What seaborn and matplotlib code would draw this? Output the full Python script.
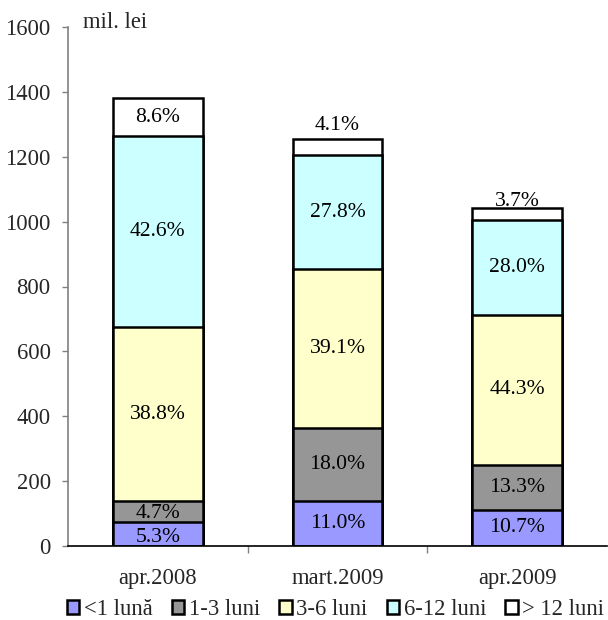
import matplotlib
matplotlib.use("Agg")
import matplotlib.pyplot as plt
import seaborn as sns
import numpy as np
import pandas as pd
from matplotlib.patches import Patch

categories = ["apr.2008", "mart.2009", "apr.2009"]
series_names = ["<1 lună", "1-3 luni", "3-6 luni", "6-12 luni", "> 12 luni"]
lt1 = [73, 138, 111]
m1_3 = [65, 226, 139]
m3_6 = [536, 491, 462]
m6_12 = [589, 349, 292]
gt12 = [119, 51, 38]
pct_lt1 = ["5.3%", "11.0%", "10.7%"]
pct_1_3 = ["4.7%", "18.0%", "13.3%"]
pct_3_6 = ["38.8%", "39.1%", "44.3%"]
pct_6_12 = ["42.6%", "27.8%", "28.0%"]
pct_gt12 = ["8.6%", "4.1%", "3.7%"]
colors = ["#9999FF", "#969696", "#FFFFCC", "#CCFFFF", "#FFFFFF"]

sns.set_theme(style="white")
plt.rcParams["font.family"] = ["Liberation Serif", "DejaVu Serif"]
FS = 16.3
FS_LBL = 15.6

series = [lt1, m1_3, m3_6, m6_12, gt12]
labels = [pct_lt1, pct_1_3, pct_3_6, pct_6_12, pct_gt12]
cum = np.cumsum(np.array(series, dtype=float), axis=0)

fig = plt.figure(figsize=(6.08, 6.2), dpi=100)
ax = fig.add_axes([68/608, 1-546/620, (607-68)/608, (546-27)/620])

# draw cumulative bars from tallest down so shorter ones overdraw
for i in range(len(series) - 1, -1, -1):
    df = pd.DataFrame({"cat": categories, "val": cum[i]})
    sns.barplot(data=df, x="cat", y="val", color=colors[i], ax=ax,
                width=0.5, edgecolor="black", linewidth=1.8, saturation=1)

# segment labels (small top labels nudged upward as in the original)
nudge = {(4, 1): 22, (4, 2): 13, (0, 0): -3, (1, 0): -2}
for i in range(len(series)):
    bottoms = cum[i] - np.array(series[i])
    for j in range(len(categories)):
        yc = bottoms[j] + series[i][j] / 2
        ax.annotate(labels[i][j], (j, yc), xytext=(0, nudge.get((i, j), 0) * 0.72),
                    textcoords="offset points", ha="center", va="center",
                    fontsize=FS_LBL, color="black")

ax.set_ylim(0, 1600)
ax.set_xlim(-0.5, 2.5)
ax.set_yticks(range(0, 1601, 200))
ax.set_xlabel("")
ax.set_ylabel("")
ax.set_xticks([0, 1, 2])
ax.set_xticklabels(categories, fontsize=FS)
ax.tick_params(axis="x", length=0, pad=16)
ax.tick_params(axis="y", labelsize=FS, length=4.5, width=1, color="#808080",
               direction="out", left=True, pad=8)
ax.set_xticks([0.5, 1.5], minor=True)
ax.tick_params(axis="x", which="minor", length=5, width=1, color="#808080",
               direction="out", bottom=True)
for s in ["top", "right"]:
    ax.spines[s].set_visible(False)
ax.spines["left"].set_color("#808080")
ax.spines["left"].set_linewidth(1.2)
ax.spines["bottom"].set_color("black")
ax.spines["bottom"].set_linewidth(1.2)

ax.text(0.028, 1.008, "mil. lei", transform=ax.transAxes, fontsize=FS,
        ha="left", va="center")

handles = [Patch(facecolor=c, edgecolor="black", linewidth=1.8) for c in colors]
fig.legend(handles, series_names, loc="center", bbox_to_anchor=(0.552, 0.017),
           ncol=5, frameon=False, fontsize=FS, handlelength=0.55,
           handleheight=0.55, handletextpad=0.2, columnspacing=0.85,
           borderpad=0.1, borderaxespad=0)

fig.savefig("out.png", dpi=100)
